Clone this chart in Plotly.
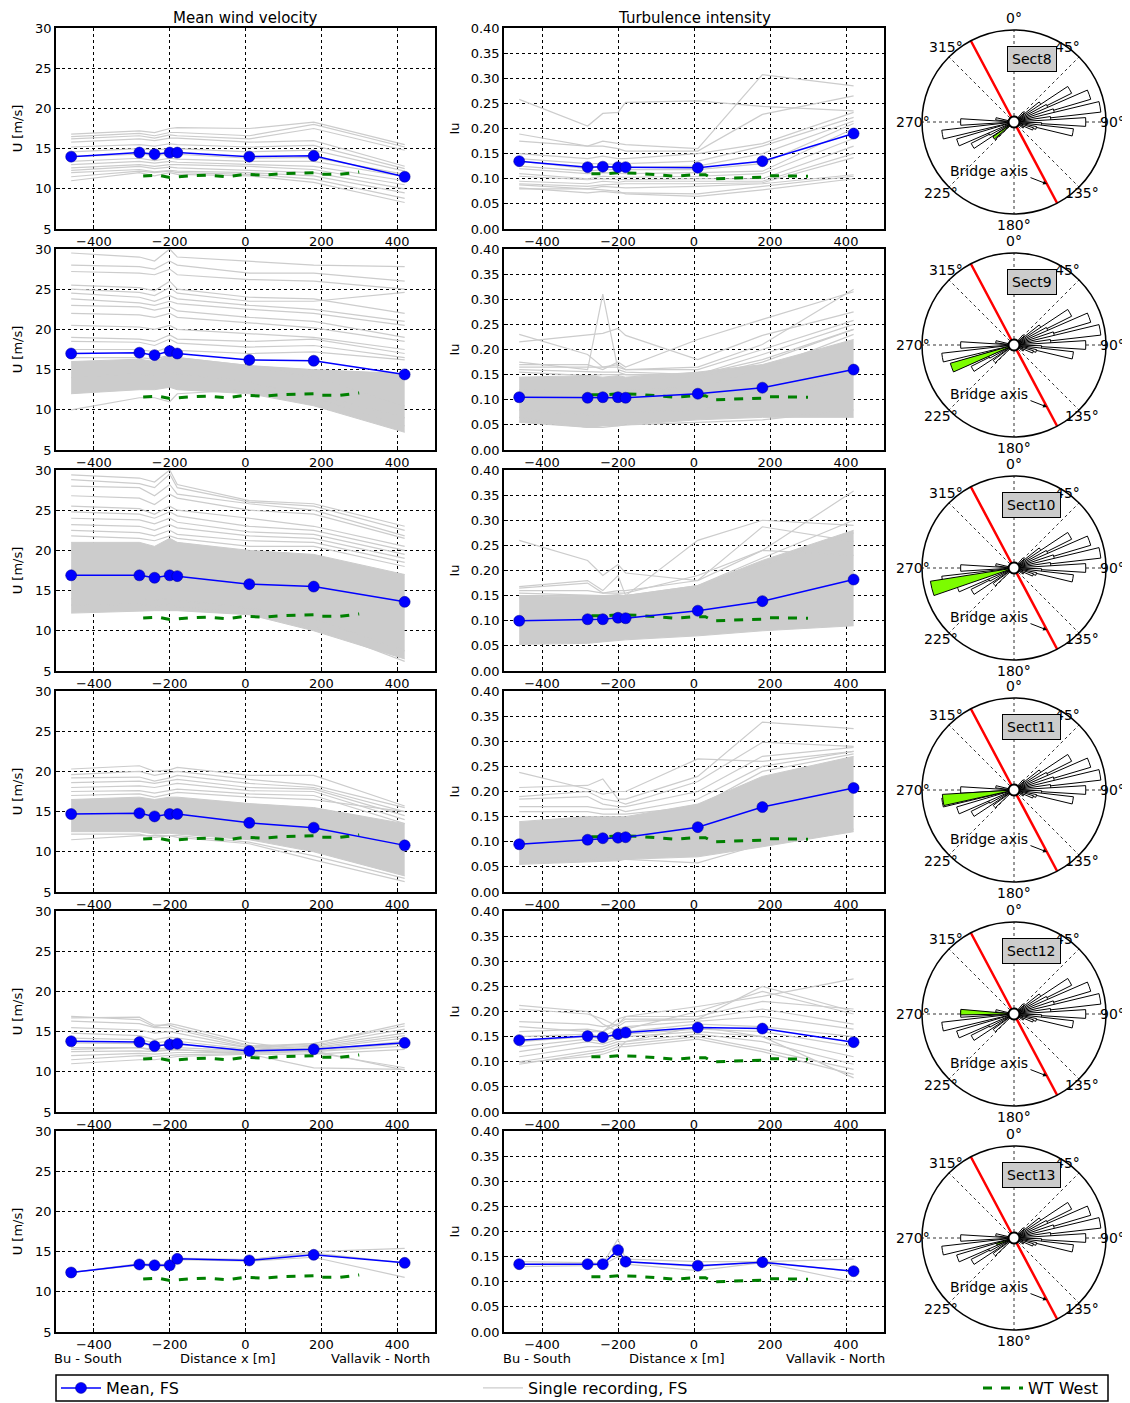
import plotly.graph_objects as go

# page is rendered with an 8px body margin; the figure is sized so it fills the window
OFF = 8
W, H = 1130 - OFF, 1403 - OFF
FONT = "DejaVu Sans"

# ---------------- data ----------------
station_x = [-460, -280, -240, -200, -180, 10, 180, 420]
sections = ["Sect8", "Sect9", "Sect10", "Sect11", "Sect12", "Sect13"]

wt_x = [-270, -230, -200, -150, -100, -50, 0, 30, 50, 100, 180, 200, 250, 300]
wt_u = [11.6, 11.7, 11.4, 11.6, 11.7, 11.5, 11.8, 11.7, 11.7, 11.9, 12.0, 11.8, 11.8, 12.1]
wt_iu = [0.110, 0.110, 0.112, 0.111, 0.108, 0.105, 0.108, 0.108, 0.100, 0.101, 0.103, 0.106, 0.105, 0.105]

mean_u = [
    [14.0, 14.5, 14.3, 14.5, 14.5, 14.0, 14.1, 11.5],
    [17.0, 17.1, 16.8, 17.3, 17.0, 16.2, 16.1, 14.4],
    [16.9, 16.9, 16.6, 16.9, 16.8, 15.8, 15.5, 13.6],
    [14.7, 14.8, 14.4, 14.7, 14.7, 13.6, 13.0, 10.8],
    [13.8, 13.7, 13.2, 13.4, 13.5, 12.6, 12.8, 13.6],
    [12.4, 13.4, 13.3, 13.3, 14.1, 13.9, 14.6, 13.6],
]
mean_iu = [
    [0.135, 0.123, 0.124, 0.123, 0.123, 0.122, 0.135, 0.190],
    [0.105, 0.104, 0.105, 0.105, 0.104, 0.112, 0.124, 0.160],
    [0.100, 0.103, 0.103, 0.106, 0.105, 0.120, 0.139, 0.182],
    [0.095, 0.104, 0.107, 0.108, 0.109, 0.129, 0.169, 0.207],
    [0.143, 0.151, 0.149, 0.155, 0.158, 0.168, 0.166, 0.139],
    [0.135, 0.135, 0.135, 0.163, 0.140, 0.132, 0.139, 0.121],
]

# single recordings (selected lines)
single_u_sect8 = [
    [16.8, 17.2, 17.0, 17.5, 17.6, 17.5, 18.3, 15.5],
    [16.5, 16.9, 16.6, 17.0, 17.0, 16.6, 18.0, 15.2],
    [16.2, 16.6, 16.3, 16.7, 16.6, 16.2, 17.5, 14.8],
    [15.8, 16.2, 16.0, 16.3, 16.3, 15.8, 16.0, 12.8],
    [15.2, 15.5, 15.3, 15.6, 15.5, 15.2, 15.4, 12.5],
    [14.6, 15.0, 14.8, 15.0, 15.0, 14.6, 14.8, 12.2],
    [14.0, 14.3, 14.2, 14.3, 14.3, 13.8, 13.9, 11.8],
    [13.4, 13.8, 13.5, 13.8, 13.7, 13.4, 13.4, 11.5],
    [13.0, 13.4, 13.2, 13.4, 13.3, 13.0, 12.8, 11.0],
    [12.6, 13.0, 12.8, 13.0, 13.0, 12.8, 12.4, 10.5],
    [12.3, 12.8, 12.5, 12.7, 12.6, 12.3, 12.0, 10.0],
    [12.0, 12.4, 12.1, 12.3, 12.2, 12.0, 11.6, 9.5],
    [11.5, 12.2, 12.0, 12.2, 12.0, 11.8, 11.2, 8.8],
    [11.0, 12.0, 11.6, 12.0, 11.8, 11.6, 10.8, 8.3],
]
single_iu_sect8 = [
    [0.258, 0.205, 0.230, 0.232, 0.252, 0.255, 0.244, 0.235],
    [0.189, 0.165, 0.175, 0.170, 0.168, 0.160, 0.307, 0.285],
    [0.175, 0.165, 0.165, 0.160, 0.155, 0.155, 0.228, 0.265],
    [0.150, 0.140, 0.145, 0.140, 0.140, 0.150, 0.170, 0.232],
    [0.140, 0.130, 0.130, 0.128, 0.130, 0.135, 0.165, 0.222],
    [0.135, 0.120, 0.125, 0.122, 0.122, 0.125, 0.150, 0.215],
    [0.125, 0.115, 0.118, 0.118, 0.117, 0.118, 0.130, 0.210],
    [0.120, 0.110, 0.112, 0.110, 0.110, 0.112, 0.115, 0.200],
    [0.110, 0.100, 0.105, 0.103, 0.103, 0.105, 0.110, 0.180],
    [0.105, 0.098, 0.100, 0.098, 0.098, 0.100, 0.100, 0.165],
    [0.095, 0.090, 0.095, 0.093, 0.095, 0.095, 0.095, 0.150],
    [0.090, 0.085, 0.088, 0.090, 0.090, 0.090, 0.092, 0.142],
    [0.088, 0.080, 0.085, 0.082, 0.082, 0.085, 0.090, 0.108],
    [0.082, 0.072, 0.075, 0.072, 0.072, 0.070, 0.085, 0.105],
    [0.080, 0.080, 0.078, 0.075, 0.070, 0.065, 0.078, 0.100],
]
single_u_sect9 = [
    [29.5, 29.0, 28.5, 30.0, 29.0, 28.5, 28.0, 27.8],
    [28.0, 27.8, 27.5, 28.5, 28.0, 27.0, 27.0, 26.0],
    [27.2, 27.0, 26.8, 27.5, 26.8, 26.2, 26.0, 25.0],
    [25.5, 25.2, 24.8, 26.0, 25.0, 24.0, 23.8, 22.0],
    [25.0, 24.6, 24.2, 25.2, 24.5, 23.5, 23.5, 24.6],
    [24.5, 24.0, 23.5, 24.2, 23.8, 23.0, 22.5, 21.0],
    [23.8, 23.3, 23.0, 23.5, 23.2, 22.5, 22.0, 20.5],
    [23.0, 22.8, 22.4, 22.8, 22.3, 21.5, 21.0, 19.0],
    [22.0, 21.8, 21.5, 22.0, 21.5, 20.8, 20.2, 18.5],
    [20.5, 20.3, 20.0, 20.5, 20.0, 19.5, 19.0, 17.5],
    [19.0, 18.8, 18.5, 19.3, 18.8, 18.5, 18.8, 17.0],
    [18.5, 18.4, 18.0, 18.8, 18.3, 17.8, 18.0, 16.5],
    [17.5, 17.5, 17.2, 17.8, 17.4, 17.0, 17.2, 16.2],
    [10.0, 11.5, 11.5, 11.0, 12.0, 12.5, 12.0, 9.0],
    [16.5, 16.5, 16.3, 16.8, 16.5, 15.5, 14.0, 10.5],
    [14.0, 14.5, 14.2, 14.8, 14.5, 13.5, 11.5, 8.0],
]
single_iu_sect9 = [
    [0.175, 0.160, 0.310, 0.160, 0.155, 0.150, 0.180, 0.240],
    [0.230, 0.190, 0.165, 0.170, 0.160, 0.165, 0.210, 0.320],
    [0.215, 0.230, 0.232, 0.242, 0.228, 0.180, 0.228, 0.275],
    [0.170, 0.170, 0.160, 0.175, 0.165, 0.220, 0.260, 0.315],
    [0.165, 0.165, 0.165, 0.165, 0.160, 0.160, 0.200, 0.258],
    [0.160, 0.155, 0.155, 0.155, 0.150, 0.150, 0.190, 0.250],
    [0.155, 0.148, 0.150, 0.150, 0.150, 0.145, 0.175, 0.240],
    [0.065, 0.045, 0.045, 0.048, 0.050, 0.055, 0.060, 0.080],
    [0.120, 0.115, 0.118, 0.118, 0.118, 0.125, 0.160, 0.230],
    [0.080, 0.070, 0.072, 0.075, 0.075, 0.080, 0.100, 0.150],
]
single_u_sect10 = [
    [29.4, 29.0, 28.5, 30.0, 28.2, 26.2, 25.8, 23.0],
    [28.8, 28.3, 27.8, 29.5, 27.8, 26.0, 25.5, 22.5],
    [28.0, 27.8, 26.8, 28.2, 27.0, 25.8, 25.0, 21.8],
    [26.8, 26.5, 25.7, 27.0, 26.5, 25.0, 24.5, 21.5],
    [25.5, 25.2, 24.5, 25.5, 25.0, 24.0, 23.0, 20.5],
    [24.8, 24.5, 24.0, 24.8, 24.3, 23.0, 22.5, 20.0],
    [24.0, 23.8, 23.3, 24.0, 23.5, 22.3, 22.0, 19.5],
    [23.2, 23.0, 22.5, 23.2, 22.8, 21.8, 21.5, 19.0],
    [22.5, 22.2, 21.8, 22.5, 22.0, 21.2, 21.0, 18.5],
    [21.8, 21.5, 21.2, 21.8, 21.5, 20.5, 20.5, 18.0],
    [14.0, 14.0, 13.8, 14.0, 13.8, 12.8, 11.5, 7.5],
    [13.2, 13.3, 13.0, 13.3, 13.0, 12.2, 10.5, 6.2],
]
single_iu_sect10 = [
    [0.260, 0.220, 0.190, 0.212, 0.195, 0.180, 0.240, 0.230],
    [0.168, 0.180, 0.160, 0.190, 0.150, 0.260, 0.300, 0.290],
    [0.165, 0.175, 0.155, 0.160, 0.160, 0.180, 0.287, 0.258],
    [0.160, 0.160, 0.155, 0.155, 0.155, 0.190, 0.240, 0.358],
    [0.155, 0.150, 0.150, 0.150, 0.150, 0.170, 0.225, 0.300],
    [0.150, 0.150, 0.150, 0.150, 0.150, 0.165, 0.210, 0.275],
]
single_u_sect11 = [
    [20.3, 20.7, 20.0, 20.2, 20.5, 19.5, 19.5, 15.7],
    [19.6, 20.0, 19.5, 19.8, 20.0, 19.0, 18.3, 15.5],
    [19.2, 19.3, 18.8, 19.2, 19.5, 18.5, 18.0, 15.0],
    [18.6, 18.8, 18.5, 18.8, 19.0, 18.0, 17.8, 14.5],
    [18.0, 18.2, 18.0, 18.3, 18.5, 17.6, 17.5, 14.0],
    [17.5, 17.6, 17.3, 17.6, 17.8, 17.2, 17.0, 13.5],
    [17.0, 17.2, 16.8, 17.2, 17.4, 16.8, 16.5, 15.0],
    [11.5, 12.0, 12.0, 12.0, 11.8, 11.0, 9.0, 6.3],
    [12.2, 12.2, 11.8, 12.0, 12.0, 11.2, 9.5, 6.7],
]
single_iu_sect11 = [
    [0.238, 0.205, 0.195, 0.200, 0.200, 0.265, 0.260, 0.280],
    [0.208, 0.212, 0.225, 0.185, 0.185, 0.230, 0.338, 0.325],
    [0.190, 0.200, 0.185, 0.180, 0.175, 0.220, 0.298, 0.290],
    [0.185, 0.190, 0.175, 0.170, 0.170, 0.200, 0.270, 0.288],
    [0.170, 0.170, 0.165, 0.165, 0.160, 0.185, 0.250, 0.280],
    [0.160, 0.160, 0.155, 0.155, 0.155, 0.170, 0.240, 0.275],
    [0.060, 0.065, 0.068, 0.065, 0.065, 0.058, 0.095, 0.125],
]
single_u_sect12 = [
    [16.9, 16.5, 15.6, 16.0, 15.8, 13.6, 12.6, 10.2],
    [16.7, 16.8, 15.8, 15.8, 15.5, 13.3, 12.4, 10.5],
    [16.3, 16.0, 15.5, 15.5, 15.2, 13.2, 13.5, 16.0],
    [15.5, 15.2, 14.8, 15.0, 14.8, 13.0, 13.5, 15.7],
    [14.8, 14.5, 14.0, 14.3, 14.2, 13.0, 13.3, 15.3],
    [14.2, 14.0, 13.6, 13.8, 13.8, 12.8, 13.2, 14.8],
    [13.6, 13.5, 13.2, 13.4, 13.4, 12.7, 13.0, 14.5],
    [13.0, 13.0, 12.8, 13.0, 13.0, 12.6, 12.9, 14.2],
    [12.5, 12.6, 12.5, 12.7, 12.7, 12.5, 12.7, 13.8],
    [12.0, 12.3, 12.2, 12.3, 12.4, 12.4, 12.6, 13.5],
    [11.5, 12.0, 11.9, 12.0, 12.1, 12.3, 12.5, 13.2],
    [11.0, 11.5, 11.5, 11.8, 11.9, 12.2, 12.2, 12.8],
    [12.8, 13.0, 12.6, 12.8, 12.8, 12.2, 10.5, 10.3],
]
single_iu_sect12 = [
    [0.212, 0.200, 0.175, 0.160, 0.165, 0.200, 0.240, 0.195],
    [0.205, 0.195, 0.185, 0.170, 0.180, 0.185, 0.250, 0.200],
    [0.180, 0.175, 0.170, 0.175, 0.190, 0.210, 0.230, 0.265],
    [0.170, 0.160, 0.160, 0.185, 0.190, 0.190, 0.220, 0.205],
    [0.160, 0.165, 0.160, 0.175, 0.185, 0.185, 0.205, 0.175],
    [0.150, 0.155, 0.150, 0.165, 0.170, 0.180, 0.190, 0.165],
    [0.140, 0.150, 0.145, 0.155, 0.160, 0.175, 0.170, 0.150],
    [0.130, 0.145, 0.140, 0.150, 0.155, 0.165, 0.160, 0.130],
    [0.120, 0.140, 0.135, 0.145, 0.150, 0.160, 0.150, 0.110],
    [0.110, 0.130, 0.130, 0.140, 0.140, 0.155, 0.140, 0.095],
    [0.100, 0.120, 0.125, 0.135, 0.135, 0.150, 0.125, 0.085],
    [0.095, 0.115, 0.120, 0.130, 0.130, 0.145, 0.120, 0.075],
    [0.098, 0.110, 0.115, 0.125, 0.140, 0.170, 0.150, 0.068],
]
single_u_sect13 = [
    [12.4, 13.5, 13.4, 13.4, 14.2, 14.0, 15.0, 15.4],
    [12.4, 13.3, 13.2, 13.2, 14.0, 13.8, 14.3, 11.8],
    [12.4, 13.4, 13.3, 13.3, 14.1, 14.0, 14.8, 13.6],
]
single_iu_sect13 = [
    [0.140, 0.138, 0.136, 0.185, 0.145, 0.140, 0.140, 0.145],
    [0.130, 0.132, 0.134, 0.150, 0.135, 0.122, 0.138, 0.100],
    [0.135, 0.135, 0.135, 0.165, 0.140, 0.130, 0.140, 0.120],
]

# dense cores of the many single recordings (lower / upper envelope), None = no dense core
band_u_lo = [None, [12.0, 12.5, 12.5, 12.8, 12.5, 12.0, 10.5, 7.2],
             [12.2, 12.5, 12.5, 12.5, 12.5, 12.0, 10.0, 6.5],
             [12.5, 12.5, 12.2, 12.3, 12.2, 11.5, 10.0, 7.0], None, None]
band_u_hi = [None, [16.0, 16.3, 16.0, 16.8, 16.5, 15.5, 15.0, 14.5],
             [21.0, 21.0, 20.5, 21.5, 21.0, 20.0, 19.5, 17.0],
             [16.5, 16.8, 16.5, 16.8, 16.8, 16.0, 15.5, 13.5], None, None]
band_iu_lo = [None, [0.055, 0.045, 0.048, 0.048, 0.050, 0.060, 0.065, 0.065],
              [0.053, 0.055, 0.058, 0.060, 0.062, 0.070, 0.080, 0.090],
              [0.055, 0.060, 0.062, 0.062, 0.065, 0.070, 0.090, 0.120], None, None]
band_iu_hi = [None, [0.145, 0.148, 0.145, 0.148, 0.145, 0.155, 0.170, 0.220],
              [0.148, 0.150, 0.150, 0.152, 0.150, 0.170, 0.220, 0.280],
              [0.140, 0.150, 0.150, 0.150, 0.150, 0.175, 0.230, 0.270], None, None]

single_u = [single_u_sect8, single_u_sect9, single_u_sect10, single_u_sect11, single_u_sect12, single_u_sect13]
single_iu = [single_iu_sect8, single_iu_sect9, single_iu_sect10, single_iu_sect11, single_iu_sect12, single_iu_sect13]

# wind rose (direction in deg, relative bar length)
rose_dir = [45, 55, 60, 65, 70, 75, 80, 85, 90, 95, 100, 105, 110, 120, 230, 240, 245, 250, 260, 270, 280]
rose_len = [0.15, 0.35, 0.7, 0.4, 0.87, 0.45, 0.95, 0.4, 0.78, 0.3, 0.65, 0.25, 0.22, 0.12, 0.28, 0.52, 0.3, 0.65, 0.79, 0.58, 0.2]
green_dir = [232, 250, 256, 262, 272, 250]
green_len = [0.28, 0.72, 0.92, 0.78, 0.58, 0.2]
green_width = [6, 8, 10, 9, 6, 5]
bridge_axis_deg = 332

x_ticks = [-400, -200, 0, 200, 400]
u_ticks = [5, 10, 15, 20, 25, 30]
iu_ticks = [0.0, 0.05, 0.10, 0.15, 0.20, 0.25, 0.30, 0.35, 0.40]
polar_ticks = [0, 45, 90, 135, 180, 225, 270, 315]
# label offsets (pixels from rose centre) for the angular tick labels, as placed in the picture
polar_lab_dx = [0, 53, 98, 68, 0, -73, -101, -68]
polar_lab_dy = [-104, -75, 0, 71, 103, 71, 0, -75]

# ---------------- layout geometry (window pixels) ----------------
row_top = [28, 249, 470, 691, 911, 1131]
PH = 201
col_x = [(56, 435), (504, 884)]
pol_cx = 1014
pol_cy = [122, 345, 568, 790, 1014, 1238]
pol_r = 92

GREY = "#cccccc"
fig = go.Figure()
layout = dict()
annotations = []


def px_x(v):
    return (v - OFF) / W


def px_y(v):
    return 1 - (v - OFF) / H


def label(x, y, text, size=13, **kw):
    d = dict(x=px_x(x), y=px_y(y), xref="paper", yref="paper", text=text, showarrow=False,
             xanchor="center", yanchor="middle", font=dict(family=FONT, size=size, color="black"))
    d.update(kw)
    return d


for r in range(6):
    for c in range(2):
        k = r * 2 + c + 1
        xa = "x" if k == 1 else f"x{k}"
        ya = "y" if k == 1 else f"y{k}"
        lo_band = band_u_lo[r] if c == 0 else band_iu_lo[r]
        hi_band = band_u_hi[r] if c == 0 else band_iu_hi[r]
        if lo_band is not None:
            fig.add_trace(go.Scatter(x=station_x, y=lo_band, mode="lines", line=dict(color=GREY, width=1),
                                     xaxis=xa, yaxis=ya, showlegend=False, hoverinfo="skip"))
            fig.add_trace(go.Scatter(x=station_x, y=hi_band, mode="lines", line=dict(color=GREY, width=1),
                                     fill="tonexty", fillcolor=GREY,
                                     xaxis=xa, yaxis=ya, showlegend=False, hoverinfo="skip"))
        lines = single_u[r] if c == 0 else single_iu[r]
        for i, ln in enumerate(lines):
            show = (r == 0 and c == 0 and i == 0)
            fig.add_trace(go.Scatter(x=station_x, y=ln, mode="lines", line=dict(color=GREY, width=1.2),
                                     name="Single recording, FS", legend="legend2", showlegend=show,
                                     xaxis=xa, yaxis=ya, hoverinfo="skip"))
        fig.add_trace(go.Scatter(x=wt_x, y=wt_u if c == 0 else wt_iu, mode="lines",
                                 line=dict(color="#008000", width=3, dash="dash"),
                                 name="WT West", legend="legend3", showlegend=(k == 1),
                                 xaxis=xa, yaxis=ya))
        fig.add_trace(go.Scatter(x=station_x, y=mean_u[r] if c == 0 else mean_iu[r], mode="lines+markers",
                                 line=dict(color="#0000ff", width=1.5),
                                 marker=dict(color="#0000ff", size=11, line=dict(color="#00008b", width=0.5)),
                                 name="Mean, FS", legend="legend", showlegend=(k == 1),
                                 xaxis=xa, yaxis=ya))
        x0, x1 = col_x[c]
        top = row_top[r]
        common = dict(showline=True, mirror=True, linecolor="black", linewidth=1.5,
                      showgrid=True, gridcolor="black", griddash="dot", gridwidth=1,
                      zeroline=False, ticks="inside", ticklen=4, tickcolor="black", automargin=False,
                      tickfont=dict(family=FONT, size=13, color="black"))
        layout["xaxis" if k == 1 else f"xaxis{k}"] = dict(
            domain=[px_x(x0), px_x(x1)], anchor=ya, range=[-500, 500],
            tickvals=x_ticks, **common)
        if c == 0:
            ycfg = dict(range=[5, 30], tickvals=u_ticks, ticktext=[str(v) for v in u_ticks],
                        title=dict(text="U [m/s]", standoff=10, font=dict(family=FONT, size=13, color="black")))
        else:
            ycfg = dict(range=[0, 0.4], tickvals=iu_ticks, ticktext=[f"{v:.2f}" for v in iu_ticks],
                        title=dict(text="Iu", standoff=8, font=dict(family=FONT, size=13, color="black")))
        layout["yaxis" if k == 1 else f"yaxis{k}"] = dict(
            domain=[px_y(top + PH), px_y(top)], anchor=xa, **ycfg, **common)

    # polar wind rose
    pk = "polar" if r == 0 else f"polar{r + 1}"
    cy = pol_cy[r]
    fig.add_trace(go.Barpolar(r=[v - 0.05 for v in rose_len], base=0.05, theta=rose_dir, width=7,
                              marker=dict(color="white", line=dict(color="black", width=1)),
                              subplot=pk, showlegend=False, hoverinfo="skip"))
    fig.add_trace(go.Barpolar(r=[green_len[r] - 0.05], base=0.05, theta=[green_dir[r]], width=green_width[r],
                              marker=dict(color="#7cfc00", line=dict(color="black", width=1)),
                              subplot=pk, showlegend=False, hoverinfo="skip"))
    fig.add_trace(go.Scatterpolar(r=[1.0, 0.0, 1.0], theta=[bridge_axis_deg, bridge_axis_deg, bridge_axis_deg - 180],
                                  mode="lines", line=dict(color="#ff0000", width=2.5),
                                  subplot=pk, showlegend=False, hoverinfo="skip"))
    fig.add_trace(go.Scatterpolar(r=[0], theta=[0], mode="markers",
                                  marker=dict(color="white", size=11, line=dict(color="black", width=2)),
                                  subplot=pk, showlegend=False, hoverinfo="skip"))
    layout[pk] = dict(
        domain=dict(x=[px_x(pol_cx - pol_r), px_x(pol_cx + pol_r)], y=[px_y(cy + pol_r), px_y(cy - pol_r)]),
        bgcolor="white",
        radialaxis=dict(range=[0, 1], visible=False),
        angularaxis=dict(rotation=90, direction="clockwise", tickmode="array", tickvals=polar_ticks,
                         showticklabels=False, showgrid=True, gridcolor="#333333",
                         griddash="dot", gridwidth=1, showline=True, linecolor="black", linewidth=1.5,
                         ticks=""),
    )
    for t, dx, dy in zip(polar_ticks, polar_lab_dx, polar_lab_dy):
        annotations.append(label(pol_cx + dx, cy + dy, f"{t}°", size=14))
    annotations.append(label(pol_cx + 18, cy - 63, sections[r], size=14, bgcolor="#cccccc",
                             bordercolor="black", borderwidth=1, borderpad=4))
    annotations.append(label(pol_cx - 25, cy + 49, "Bridge axis", size=14))
    annotations.append(dict(x=px_x(pol_cx + 33), y=px_y(cy + 62), xref="paper", yref="paper",
                            text="", showarrow=True, arrowhead=2, arrowsize=0.8, arrowwidth=1,
                            arrowcolor="black", ax=-18, ay=-7))

# column titles
annotations.append(label(245, 18, "Mean wind velocity", size=15))
annotations.append(label(694, 18, "Turbulence intensity", size=15))
# bottom labels
for cx0, cx1, cx2 in [(88, 228, 380), (537, 677, 835)]:
    for xx, tt in [(cx0, "Bu - South"), (cx1, "Distance x [m]"), (cx2, "Vallavik - North")]:
        annotations.append(label(xx, 1358, tt))

leg_common = dict(orientation="h", yanchor="middle", xanchor="left", bgcolor="rgba(0,0,0,0)",
                  borderwidth=0, itemwidth=40, font=dict(family=FONT, size=16, color="black"))
layout["legend"] = dict(x=px_x(56), y=px_y(1388), **leg_common)
layout["legend2"] = dict(x=px_x(478), y=px_y(1388), **leg_common)
layout["legend3"] = dict(x=px_x(978), y=px_y(1388), **leg_common)

fig.update_layout(
    width=W, height=H, margin=dict(l=0, r=0, t=0, b=0, pad=0, autoexpand=False),
    paper_bgcolor="white", plot_bgcolor="white",
    font=dict(family=FONT, size=13, color="black"),
    annotations=annotations,
    shapes=[dict(type="rect", xref="paper", yref="paper", x0=px_x(56), x1=px_x(1108),
                 y0=px_y(1401), y1=px_y(1375), line=dict(color="black", width=1.5))],
    **layout,
)

fig.write_html("out.html")
